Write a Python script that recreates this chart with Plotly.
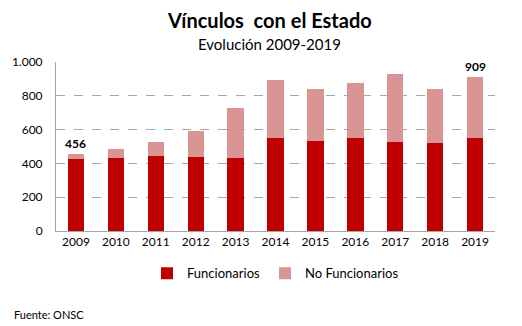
import plotly.graph_objects as go

years = ["2009", "2010", "2011", "2012", "2013", "2014", "2015", "2016", "2017", "2018", "2019"]
funcionarios = [424, 430, 446, 440, 430, 548, 534, 548, 527, 521, 548]
totales = [456, 485, 528, 593, 726, 893, 842, 876, 927, 842, 909]
no_funcionarios = [t - f for t, f in zip(totales, funcionarios)]
labeled_years = ["2009", "2019"]

FONT = "Lato, Calibri, Carlito, sans-serif"

fig = go.Figure()
fig.add_trace(go.Bar(x=years, y=funcionarios, name="Funcionarios",
                     marker=dict(color="#C00000", line=dict(width=0))))
fig.add_trace(go.Bar(x=years, y=no_funcionarios, name="No Funcionarios",
                     marker=dict(color="#D99594", line=dict(width=0))))

for yr in labeled_years:
    i = years.index(yr)
    fig.add_annotation(x=i, y=totales[i], text=f"<b>{totales[i]}</b>", showarrow=False,
                       yanchor="bottom", yshift=1,
                       font=dict(family=FONT, size=12, color="#000"))

fig.update_layout(
    width=522, height=326,
    barmode="stack", bargap=0.59,
    separators=",.",
    margin=dict(l=52, r=27, t=62, b=95),
    paper_bgcolor="white", plot_bgcolor="white",
    font=dict(family=FONT, size=12, color="#000"),
    showlegend=True,
    legend=dict(orientation="h", x=0.5, xanchor="center", y=-0.25, yanchor="middle",
                font=dict(family=FONT, size=13, color="#000"), traceorder="normal",
                itemwidth=30),
    xaxis=dict(type="category", range=[-0.5, len(years) - 0.5], showline=True,
               linecolor="#A6A6A6", linewidth=1, ticks="",
               tickfont=dict(family=FONT, size=12), fixedrange=True),
    yaxis=dict(range=[0, 1000], tickvals=[0, 200, 400, 600, 800, 1000],
               tickformat=",d", showline=True, linecolor="#A6A6A6", linewidth=1,
               showgrid=True, gridcolor="#A6A6A6", griddash="dash", gridwidth=1,
               zeroline=False, ticks="", ticklabelstandoff=10,
               tickfont=dict(family=FONT, size=12)),
)

fig.add_annotation(text="<b>Vínculos  con el Estado</b>", xref="paper", yref="paper",
                   x=(267 - 52) / 443, y=(231 - 20) / 169, yanchor="middle", showarrow=False,
                   font=dict(family=FONT, size=20, color="#000"))
fig.add_annotation(text="Evolución 2009-2019", xref="paper", yref="paper",
                   x=(267 - 52) / 443, y=(231 - 44) / 169, yanchor="middle", showarrow=False,
                   font=dict(family=FONT, size=15, color="#000"))
fig.add_annotation(text="Fuente: ONSC", xref="paper", yref="paper",
                   x=(8 - 52) / 443, xanchor="left", y=(231 - 314) / 169, yanchor="middle",
                   showarrow=False, font=dict(family=FONT, size=11, color="#000"))

fig.write_html("out.html")
